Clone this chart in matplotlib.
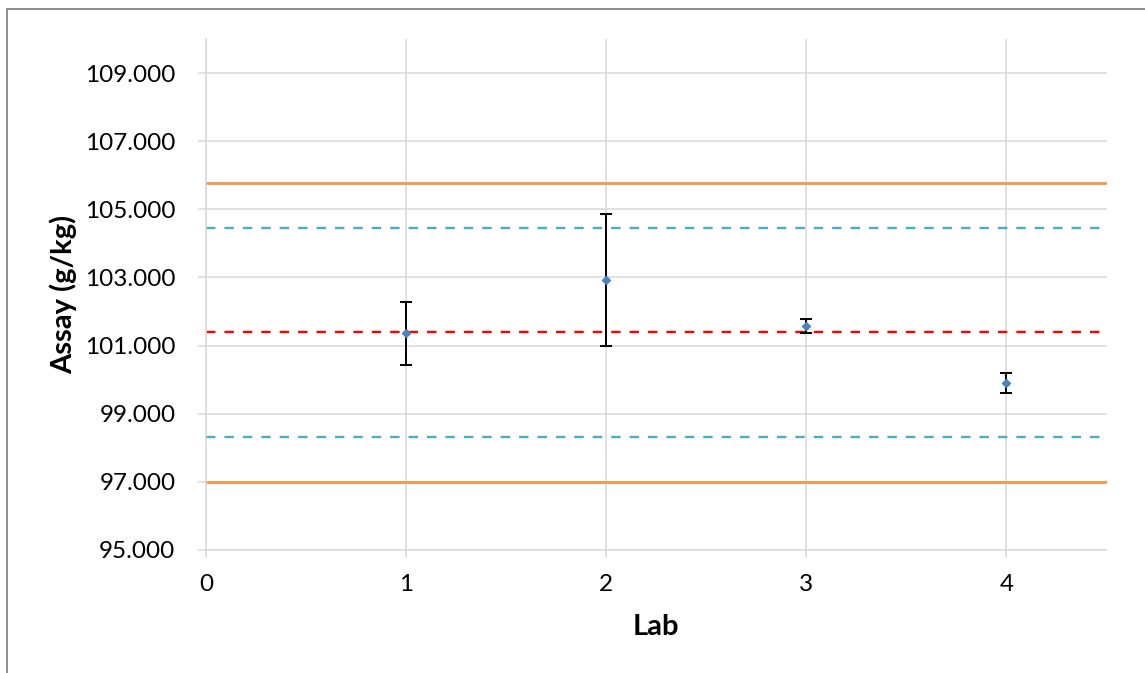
import matplotlib.pyplot as plt
from matplotlib.patches import Rectangle

# datos
labs = [1, 2, 3, 4]
assay = [101.36, 102.93, 101.57, 99.90]
err = [0.92, 1.94, 0.20, 0.30]

media = 101.40
lim_cian = [104.46, 98.33]
lim_naranja = [105.78, 97.00]

yticks = [95, 97, 99, 101, 103, 105, 107, 109]
xticks = [0, 1, 2, 3, 4]

plt.rcParams['font.family'] = ['Lato', 'DejaVu Sans']

fig = plt.figure(figsize=(11.45, 6.73), dpi=100)
ax = fig.add_axes([206/1145, 1 - 550/673, 900.5/1145, 511/673])

# marco del grafico
fig.patches.append(Rectangle((7/1145, -0.1), 1.2, 1 - 9/673 + 0.1,
                             transform=fig.transFigure, fill=False,
                             edgecolor='#868686', linewidth=1.3))

for v in lim_naranja:
    ax.axhline(v, color='#F79646', lw=2.0, zorder=2)
for v in lim_cian:
    ax.axhline(v, color='#4BACC6', lw=1.7, ls=(0, (4, 3.8)), zorder=2)
ax.axhline(media, color='#FF0000', lw=1.7, ls=(0, (4, 3.8)), zorder=2)

ax.errorbar(labs, assay, yerr=err, fmt='D', color='#4F81BD', ms=3.8,
            ecolor='black', elinewidth=1.4, capsize=4.5, capthick=1.4, zorder=3)

ax.set_xlim(0, 4.5)
ax.set_ylim(95, 110)
ax.set_xticks(xticks)
ax.set_yticks(yticks)
ax.set_yticklabels([f"{v:.3f}" for v in yticks])
ax.grid(True, color='#D9D9D9', lw=1.1, zorder=0)
ax.set_axisbelow(True)
for s in ['top', 'right']:
    ax.spines[s].set_visible(False)
for s in ['left', 'bottom']:
    ax.spines[s].set_color('#D9D9D9')
    ax.spines[s].set_linewidth(1.1)
ax.tick_params(axis='both', length=6, width=1.1, color='#D9D9D9', labelsize=17.5)
ax.tick_params(axis='y', pad=16)
ax.tick_params(axis='x', pad=11)

ax.set_xlabel("Lab", fontsize=21, fontweight='bold')
ax.set_ylabel("Assay (g/kg)", fontsize=21, fontweight='bold')
ax.xaxis.set_label_coords(0.5, -0.125)
ax.yaxis.set_label_coords(-0.143, 0.5)

fig.savefig("out.png", dpi=100)
